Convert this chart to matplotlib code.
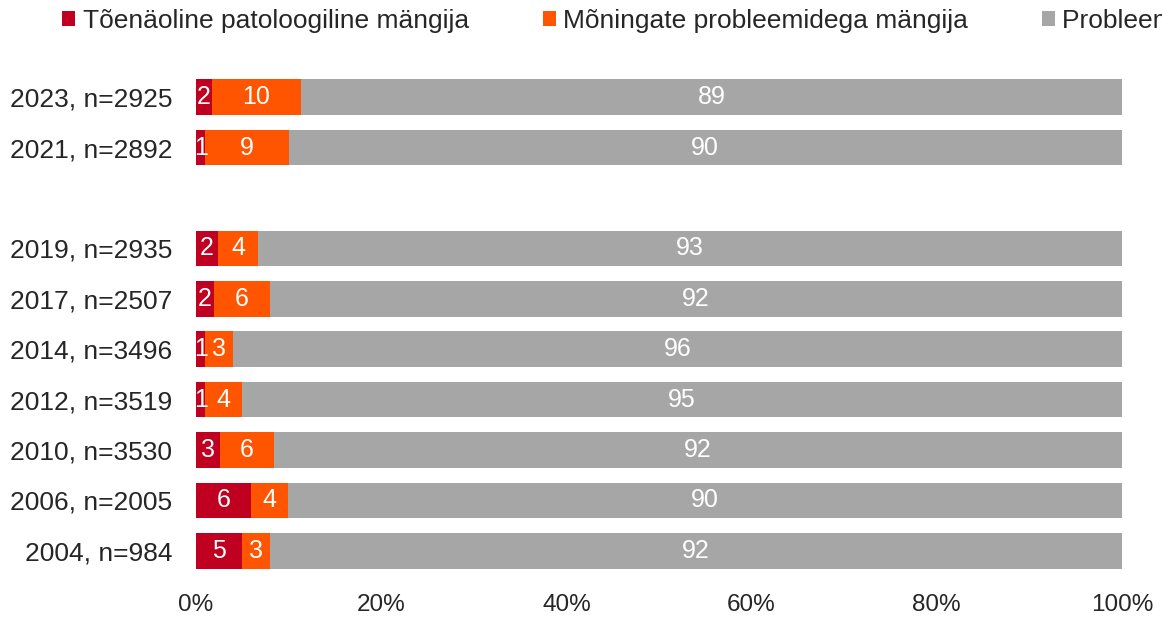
import matplotlib
matplotlib.use("Agg")
import matplotlib.pyplot as plt
import numpy as np

plt.rcParams['font.family'] = ['Liberation Sans', 'DejaVu Sans']

categories = ["2023, n=2925", "2021, n=2892", "", "2019, n=2935", "2017, n=2507",
              "2014, n=3496", "2012, n=3519", "2010, n=3530", "2006, n=2005", "2004, n=984"]
pathological = [1.7, 1.0, np.nan, 2.4, 1.9, 1.0, 1.0, 2.6, 5.9, 5.0]
some_problems = [9.6, 9.0, np.nan, 4.3, 6.1, 3.0, 4.0, 5.8, 4.0, 3.0]
no_problems = [88.7, 90.0, np.nan, 93.3, 92.0, 96.0, 95.0, 91.6, 90.1, 92.0]
series_names = ["Tõenäoline patoloogiline mängija", "Mõningate probleemidega mängija",
                "Probleemideta mängija"]
x_ticks = [0, 20, 40, 60, 80, 100]

colors = ["#C00020", "#FF5500", "#A6A6A6"]
text_color = '#262626'

fig = plt.figure(figsize=(11.62, 6.2), dpi=100)
ax = fig.add_axes([196/1162, 1-576/620, (1122-196)/1162, (576-72)/620])

y = np.arange(len(categories))
left = np.zeros(len(categories))
handles = []
for vals, col, name in zip([pathological, some_problems, no_problems], colors, series_names):
    v = np.array(vals, dtype=float)
    bars = ax.barh(y, np.nan_to_num(v), left=left, height=0.71, color=col, label=name,
                   edgecolor='none')
    labels = ["" if np.isnan(a) else "%d" % int(round(a)) for a in v]
    ax.bar_label(bars, labels=labels, label_type='center', color='white', fontsize=18)
    handles.append(bars)
    left = left + np.nan_to_num(v)

ax.set_xlim(0, 100)
ax.set_ylim(len(categories) - 0.5, -0.5)
ax.set_yticks(y)
ax.set_yticklabels(categories)
ax.set_xticks(x_ticks)
ax.set_xticklabels([f"{t}%" for t in x_ticks])
ax.tick_params(axis='both', length=0, colors=text_color)
ax.tick_params(axis='x', pad=13, labelsize=17.5)
ax.tick_params(axis='y', pad=17, labelsize=19)
for s in ax.spines.values():
    s.set_visible(False)

fig.legend(handles=handles, labels=series_names, loc='upper left',
           bbox_to_anchor=(57/1162, 1 - 4/620), ncol=3, frameon=False, fontsize=19,
           handlelength=0.5, handleheight=0.5, handletextpad=0.27,
           columnspacing=2.8, labelcolor=text_color, borderaxespad=0.0,
           borderpad=0.2)

fig.savefig("out.png", dpi=100)
